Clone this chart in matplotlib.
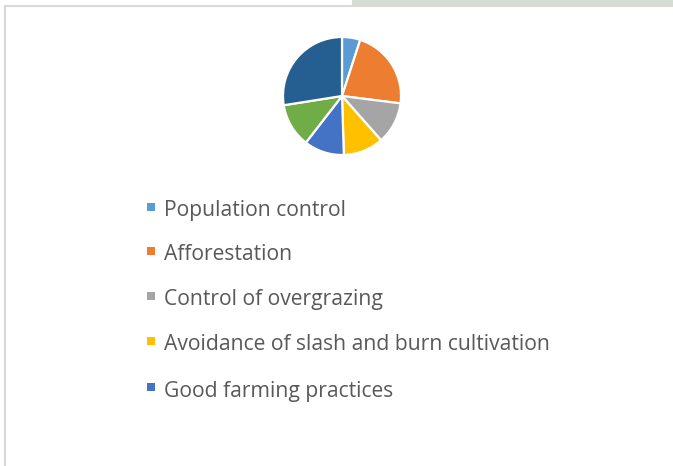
import matplotlib
matplotlib.use("Agg")
import matplotlib.pyplot as plt
from matplotlib.patches import Rectangle

# slice shares, clockwise from 12 o'clock
labels = ["Population control", "Afforestation", "Control of overgrazing",
          "Avoidance of slash and burn cultivation", "Good farming practices",
          "Other 1", "Other 2"]
values = [5, 22, 11.5, 11, 11, 12, 27.5]
colors = ["#5B9BD5", "#ED7D31", "#A5A5A5", "#FFC000", "#4472C4", "#70AD47", "#255E91"]
n_legend = 5  # only five legend entries fit in the chart area

W, H = 673, 466
fig = plt.figure(figsize=(W / 100, H / 100), dpi=100)
fig.patch.set_facecolor("white")

# frame of the chart area and the strip of page behind it
fig.patches.append(Rectangle((352 / W, 1 - 6 / H), 1, 6 / H, transform=fig.transFigure,
                             facecolor="#D3DDD3", edgecolor="none", zorder=0))
fig.patches.append(Rectangle((5 / W, -0.1), 1, 1 - 6 / H + 0.1, transform=fig.transFigure,
                             facecolor="white", edgecolor="#D9D9D9", linewidth=1.5, zorder=1))

# pie, centre (342, 96) px, radius 59 px
cx, cy, r = 342, 96, 59
ax = fig.add_axes([(cx - r) / W, 1 - (cy + r) / H, 2 * r / W, 2 * r / H])
ax.set_zorder(2)
wedges, _ = ax.pie(values, colors=colors, startangle=90, counterclock=False,
                   wedgeprops=dict(edgecolor="white", linewidth=1.6))
ax.set_xlim(-1.0, 1.0)
ax.set_ylim(-1.0, 1.0)
ax.set_aspect("equal")
ax.axis("off")

# legend, drawn row by row
row_y = [209, 253, 298, 343, 389]
for i in range(n_legend):
    y = row_y[i]
    fig.patches.append(Rectangle((147 / W, 1 - (y + 2) / H), 8 / W, 8 / H,
                                 transform=fig.transFigure, facecolor=colors[i],
                                 edgecolor="none", zorder=3))
    fig.text(164 / W, 1 - (y + 2) / H, labels[i], fontsize=15.2, family="Open Sans",
             color="#595959", va="center", ha="left", zorder=3)

fig.savefig("out.png", dpi=100)
